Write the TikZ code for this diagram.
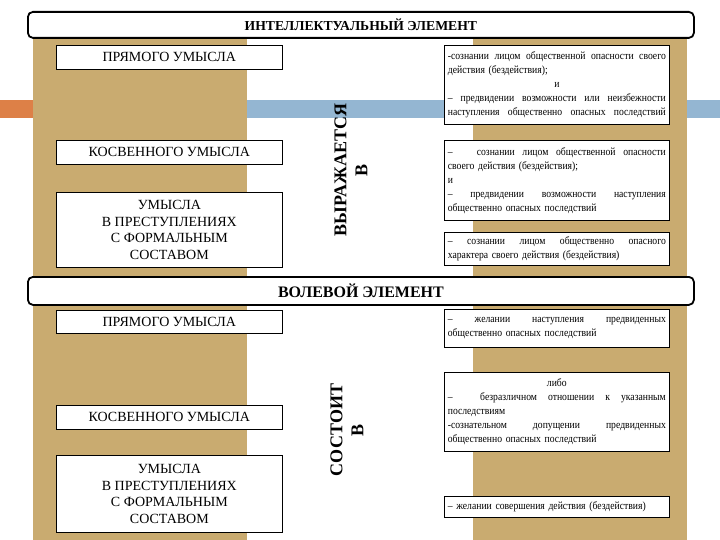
\documentclass[tikz,border=0pt]{standalone}
\usepackage{fontspec}
\setmainfont{Liberation Serif}
\newfontfamily\narrowserif[FakeStretch=0.88]{Liberation Serif}
\usetikzlibrary{positioning}
\definecolor{coltan}{RGB}{201,171,112}
\definecolor{barorange}{RGB}{221,128,71}
\definecolor{barblue}{RGB}{148,182,210}
\newcommand{\jline}[1]{{\spaceskip=0pt\xspaceskip=0pt\makebox[\linewidth][s]{#1}}}

\begin{document}
\begin{tikzpicture}[x=1pt, y=-1pt,
    banner/.style={draw=black,line width=1.8pt,rounded corners=5pt,fill=white,minimum width=666pt,anchor=north west},
    lbox/.style={draw=black,line width=0.7pt,fill=white,minimum width=226pt,anchor=north west,align=center,font=\fontsize{14}{16.7}\selectfont},
    rbox/.style={draw=black,line width=0.7pt,fill=white,text width=218pt,inner xsep=3.5pt,anchor=north west,align=left,font=\narrowserif\fontsize{11}{14}\selectfont},
    vlabel/.style={rotate=90,align=center,font=\bfseries\fontsize{18}{21}\selectfont}]
    \useasboundingbox (0,0) rectangle (720,540);
    \fill[barorange] (0,100) rectangle (33,118);
    \fill[barblue] (33,100) rectangle (720,118);
    \fill[coltan] (33,37) rectangle (247,540);
    \fill[coltan] (473,37) rectangle (687,540);
    \node[banner,minimum height=26pt,font=\bfseries\fontsize{13.7}{15}\selectfont] (intel) at (27,11) {ИНТЕЛЛЕКТУАЛЬНЫЙ ЭЛЕМЕНТ};
    \node[banner,minimum height=28pt,font=\bfseries\fontsize{16}{18}\selectfont] (vol) at (27,276) {ВОЛЕВОЙ ЭЛЕМЕНТ};
    \node[lbox,minimum height=24pt] (pr1) at (56,45) {ПРЯМОГО УМЫСЛА};
    \node[lbox,minimum height=24pt] (kos1) at (56,140) {КОСВЕННОГО УМЫСЛА};
    \node[lbox,minimum height=75pt] (form1) at (56,192) {УМЫСЛА\\В ПРЕСТУПЛЕНИЯХ\\С ФОРМАЛЬНЫМ\\СОСТАВОМ};
    \node[lbox,minimum height=23pt] (pr2) at (56,310) {ПРЯМОГО УМЫСЛА};
    \node[lbox,minimum height=24pt] (kos2) at (56,405) {КОСВЕННОГО УМЫСЛА};
    \node[lbox,minimum height=77pt] (form2) at (56,455) {УМЫСЛА\\В ПРЕСТУПЛЕНИЯХ\\С ФОРМАЛЬНЫМ\\СОСТАВОМ};
    \node[vlabel] (expr) at (351,170) {ВЫРАЖАЕТСЯ\\В};
    \node[vlabel] (cons) at (347,430) {СОСТОИТ\\В};
    \node[rbox,minimum height=79pt] (r1) at (444,45) {\jline{-сознании лицом общественной опасности своего}\\действия (бездействия);\\\makebox[\linewidth]{и}\\\jline{– предвидении возможности или неизбежности}\\\jline{наступления общественно опасных последствий}};
    \node[rbox,minimum height=80pt] (r2) at (444,140) {\jline{–\hspace{1.5em} сознании лицом общественной опасности}\\своего действия (бездействия);\\и\\\jline{– предвидении возможности наступления}\\общественно опасных последствий};
    \node[rbox,minimum height=33pt] (r3) at (444,232) {\jline{– сознании лицом общественно опасного}\\характера своего действия (бездействия)};
    \node[rbox,minimum height=38pt] (r4) at (444,309) {\jline{– желании наступления предвиденных}\\общественно опасных последствий};
    \node[rbox,minimum height=79pt] (r5) at (444,372) {\makebox[\linewidth]{либо}\\\jline{–\hspace{1.5em} безразличном отношении к указанным}\\последствиям\\\jline{-сознательном допущении предвиденных}\\общественно опасных последствий};
    \node[rbox,minimum height=21pt] (r6) at (444,496) {– желании совершения действия (бездействия)};
  \end{tikzpicture}
\end{document}
